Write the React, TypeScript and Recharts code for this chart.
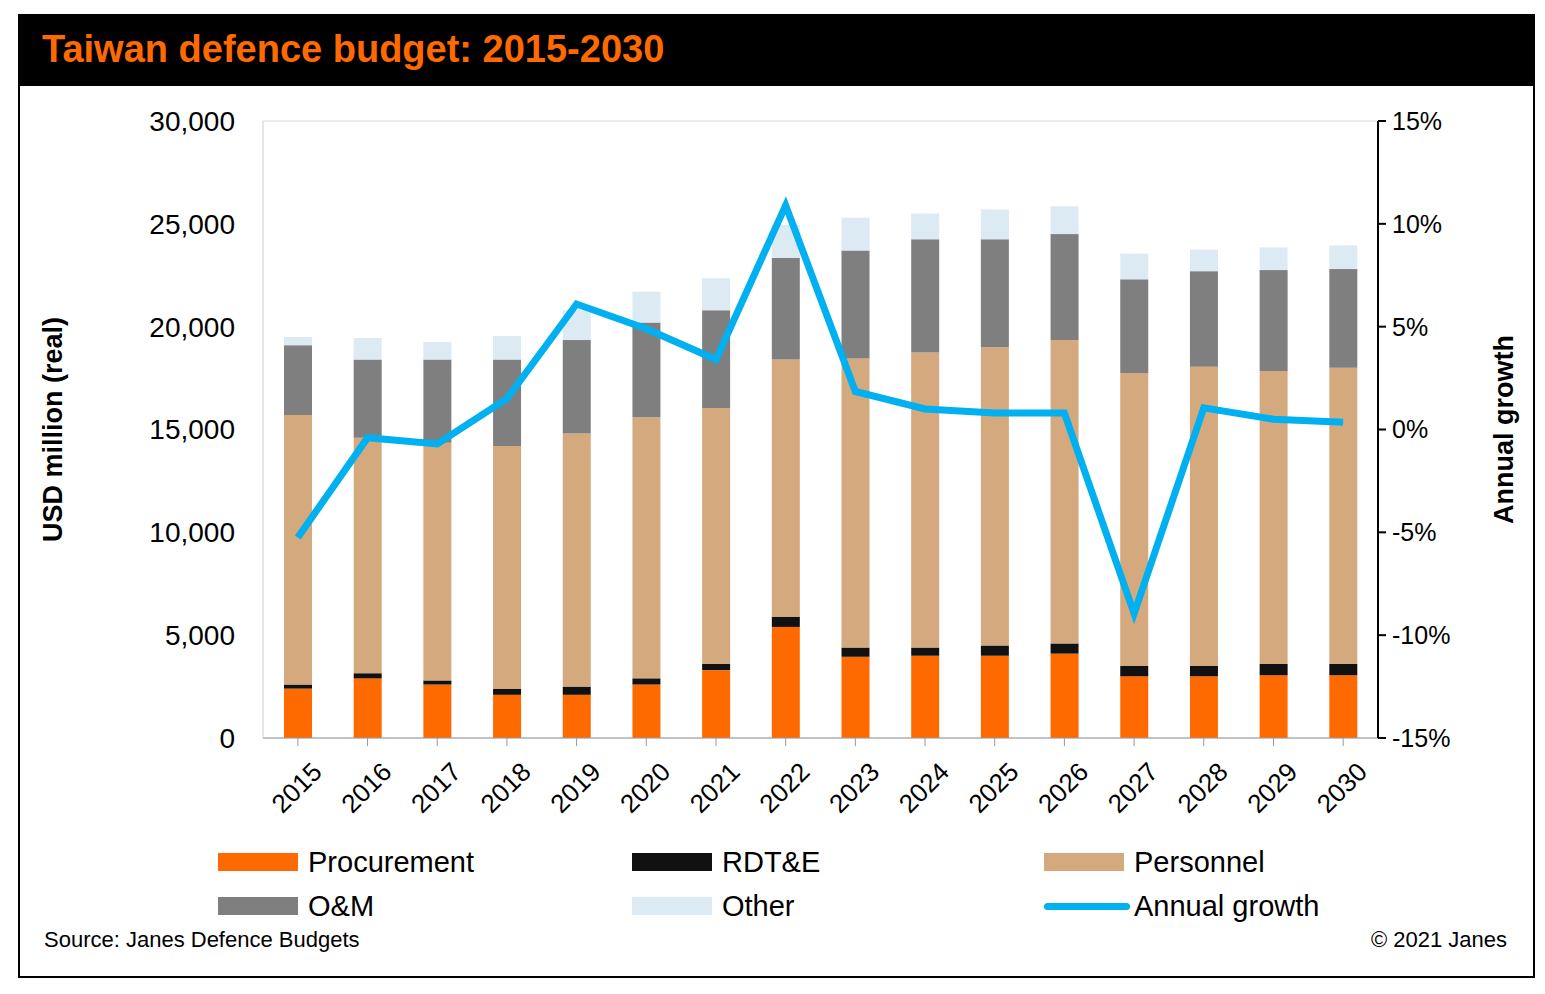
import { ComposedChart, Bar, Line, XAxis, YAxis, CartesianGrid } from 'recharts'

const years = ['2015','2016','2017','2018','2019','2020','2021','2022','2023','2024','2025','2026','2027','2028','2029','2030']
const procurement = [2400, 2900, 2600, 2100, 2100, 2600, 3300, 5400, 3950, 4000, 4000, 4100, 3000, 3000, 3050, 3050]
const rdte = [200, 250, 200, 300, 400, 300, 300, 500, 450, 400, 500, 500, 500, 500, 550, 550]
const personnel = [13100, 11450, 11550, 11800, 12300, 12700, 12450, 12500, 14050, 14350, 14500, 14750, 14250, 14550, 14250, 14400]
const om = [3400, 3800, 4050, 4200, 4550, 4600, 4750, 4950, 5250, 5500, 5250, 5150, 4550, 4650, 4900, 4800]
const other = [400, 1050, 850, 1150, 1450, 1500, 1550, 1600, 1600, 1250, 1450, 1350, 1250, 1050, 1100, 1150]
const growth = [-5.25, -0.4, -0.7, 1.5, 6.1, 4.9, 3.4, 10.9, 1.85, 1.0, 0.8, 0.8, -8.95, 1.05, 0.5, 0.35]

const leftTicks = [0, 5000, 10000, 15000, 20000, 25000, 30000]
const rightTicks = [-15, -10, -5, 0, 5, 10, 15]

const data = years.map((y, i) => ({
  year: y,
  procurement: procurement[i],
  rdte: rdte[i],
  personnel: personnel[i],
  om: om[i],
  other: other[i],
  growth: growth[i],
}))

const font = 'Arial, "Liberation Sans", sans-serif'

const legendItems = [
  { name: 'Procurement', color: '#FF6A00', x: 218, y: 852 },
  { name: 'RDT&E', color: '#111111', x: 632, y: 852 },
  { name: 'Personnel', color: '#D4A97E', x: 1044, y: 852 },
  { name: 'O&M', color: '#7F7F7F', x: 218, y: 896 },
  { name: 'Other', color: '#DCEAF4', x: 632, y: 896 },
]

const XTick = (props: any) => {
  const { x, y, payload } = props
  return (
    <text x={x + 12} y={y + 12} transform={`rotate(-45 ${x + 12} ${y + 12})`} textAnchor="end" dominantBaseline="hanging"
      fontSize={26} fill="#000" fontFamily={font}>
      {payload.value}
    </text>
  )
}

export default function App() {
  return (
    <div style={{ position: 'absolute', left: 0, top: 0, width: 1545, height: 994, background: '#fff', fontFamily: font }}>
      <div style={{ position: 'absolute', left: 18, top: 14, width: 1513, height: 960, border: '2px solid #000' }} />
      <div style={{ position: 'absolute', left: 18, top: 14, width: 1515, height: 72, background: '#000' }}>
        <span style={{ position: 'absolute', left: 24, top: 14, color: '#FF6A00', fontSize: 38, fontWeight: 'bold' }}>
          Taiwan defence budget: 2015-2030
        </span>
      </div>
      <div style={{ position: 'absolute', left: 0, top: 0 }}>
        <ComposedChart width={1545} height={994} data={data} margin={{ top: 121, left: 0, right: 47, bottom: 146 }} barSize={28}>
          <CartesianGrid vertical={false} stroke="#D9D9D9" />
          <XAxis dataKey="year" height={110} interval={0} tick={<XTick />} stroke="#999" tickLine={{ stroke: '#999' }} tickSize={8} />
          <YAxis yAxisId="l" width={263} domain={[0, 30000]} ticks={leftTicks} stroke="#ccc" tickLine={false} tickMargin={22}
            tickFormatter={(v: number) => v.toLocaleString('en-US')}
            tick={{ fontSize: 28, fill: '#000', fontFamily: font }}
            label={{ value: 'USD million (real)', angle: -90, position: 'insideLeft', offset: 52, style: { fontSize: 27, fontWeight: 'bold', fill: '#000', textAnchor: 'middle' } }} />
          <YAxis yAxisId="r" orientation="right" width={120} domain={[-15, 15]} ticks={rightTicks} stroke="#000" strokeWidth={2}
            tickLine={{ stroke: '#000', strokeWidth: 2 }} tickSize={8} tickMargin={6}
            tickFormatter={(v: number) => `${v}%`}
            tick={{ fontSize: 25, fill: '#000', fontFamily: font }}
            label={{ value: 'Annual growth', angle: -90, position: 'insideRight', offset: -5, style: { fontSize: 27, fontWeight: 'bold', fill: '#000', textAnchor: 'middle' } }} />
          <Bar yAxisId="l" dataKey="procurement" stackId="a" fill="#FF6A00" isAnimationActive={false} />
          <Bar yAxisId="l" dataKey="rdte" stackId="a" fill="#111111" isAnimationActive={false} />
          <Bar yAxisId="l" dataKey="personnel" stackId="a" fill="#D4A97E" isAnimationActive={false} />
          <Bar yAxisId="l" dataKey="om" stackId="a" fill="#7F7F7F" isAnimationActive={false} />
          <Bar yAxisId="l" dataKey="other" stackId="a" fill="#DCEAF4" isAnimationActive={false} />
          <Line yAxisId="r" dataKey="growth" stroke="#00B0F0" strokeWidth={7} dot={false} type="linear" isAnimationActive={false} />
        </ComposedChart>
      </div>
      {legendItems.map((it) => (
        <div key={it.name} style={{ position: 'absolute', left: it.x, top: it.y, display: 'flex', alignItems: 'center' }}>
          <div style={{ width: 80, height: 18, background: it.color }} />
          <span style={{ marginLeft: 10, fontSize: 29, lineHeight: '20px' }}>{it.name}</span>
        </div>
      ))}
      <div style={{ position: 'absolute', left: 1044, top: 896, display: 'flex', alignItems: 'center' }}>
        <div style={{ width: 86, height: 7, borderRadius: 4, background: '#00B0F0' }} />
        <span style={{ marginLeft: 4, fontSize: 29, lineHeight: '20px' }}>Annual growth</span>
      </div>
      <div style={{ position: 'absolute', left: 44, top: 927, fontSize: 22 }}>Source: Janes Defence Budgets</div>
      <div style={{ position: 'absolute', right: 38, top: 927, fontSize: 22 }}>© 2021 Janes</div>
    </div>
  )
}
